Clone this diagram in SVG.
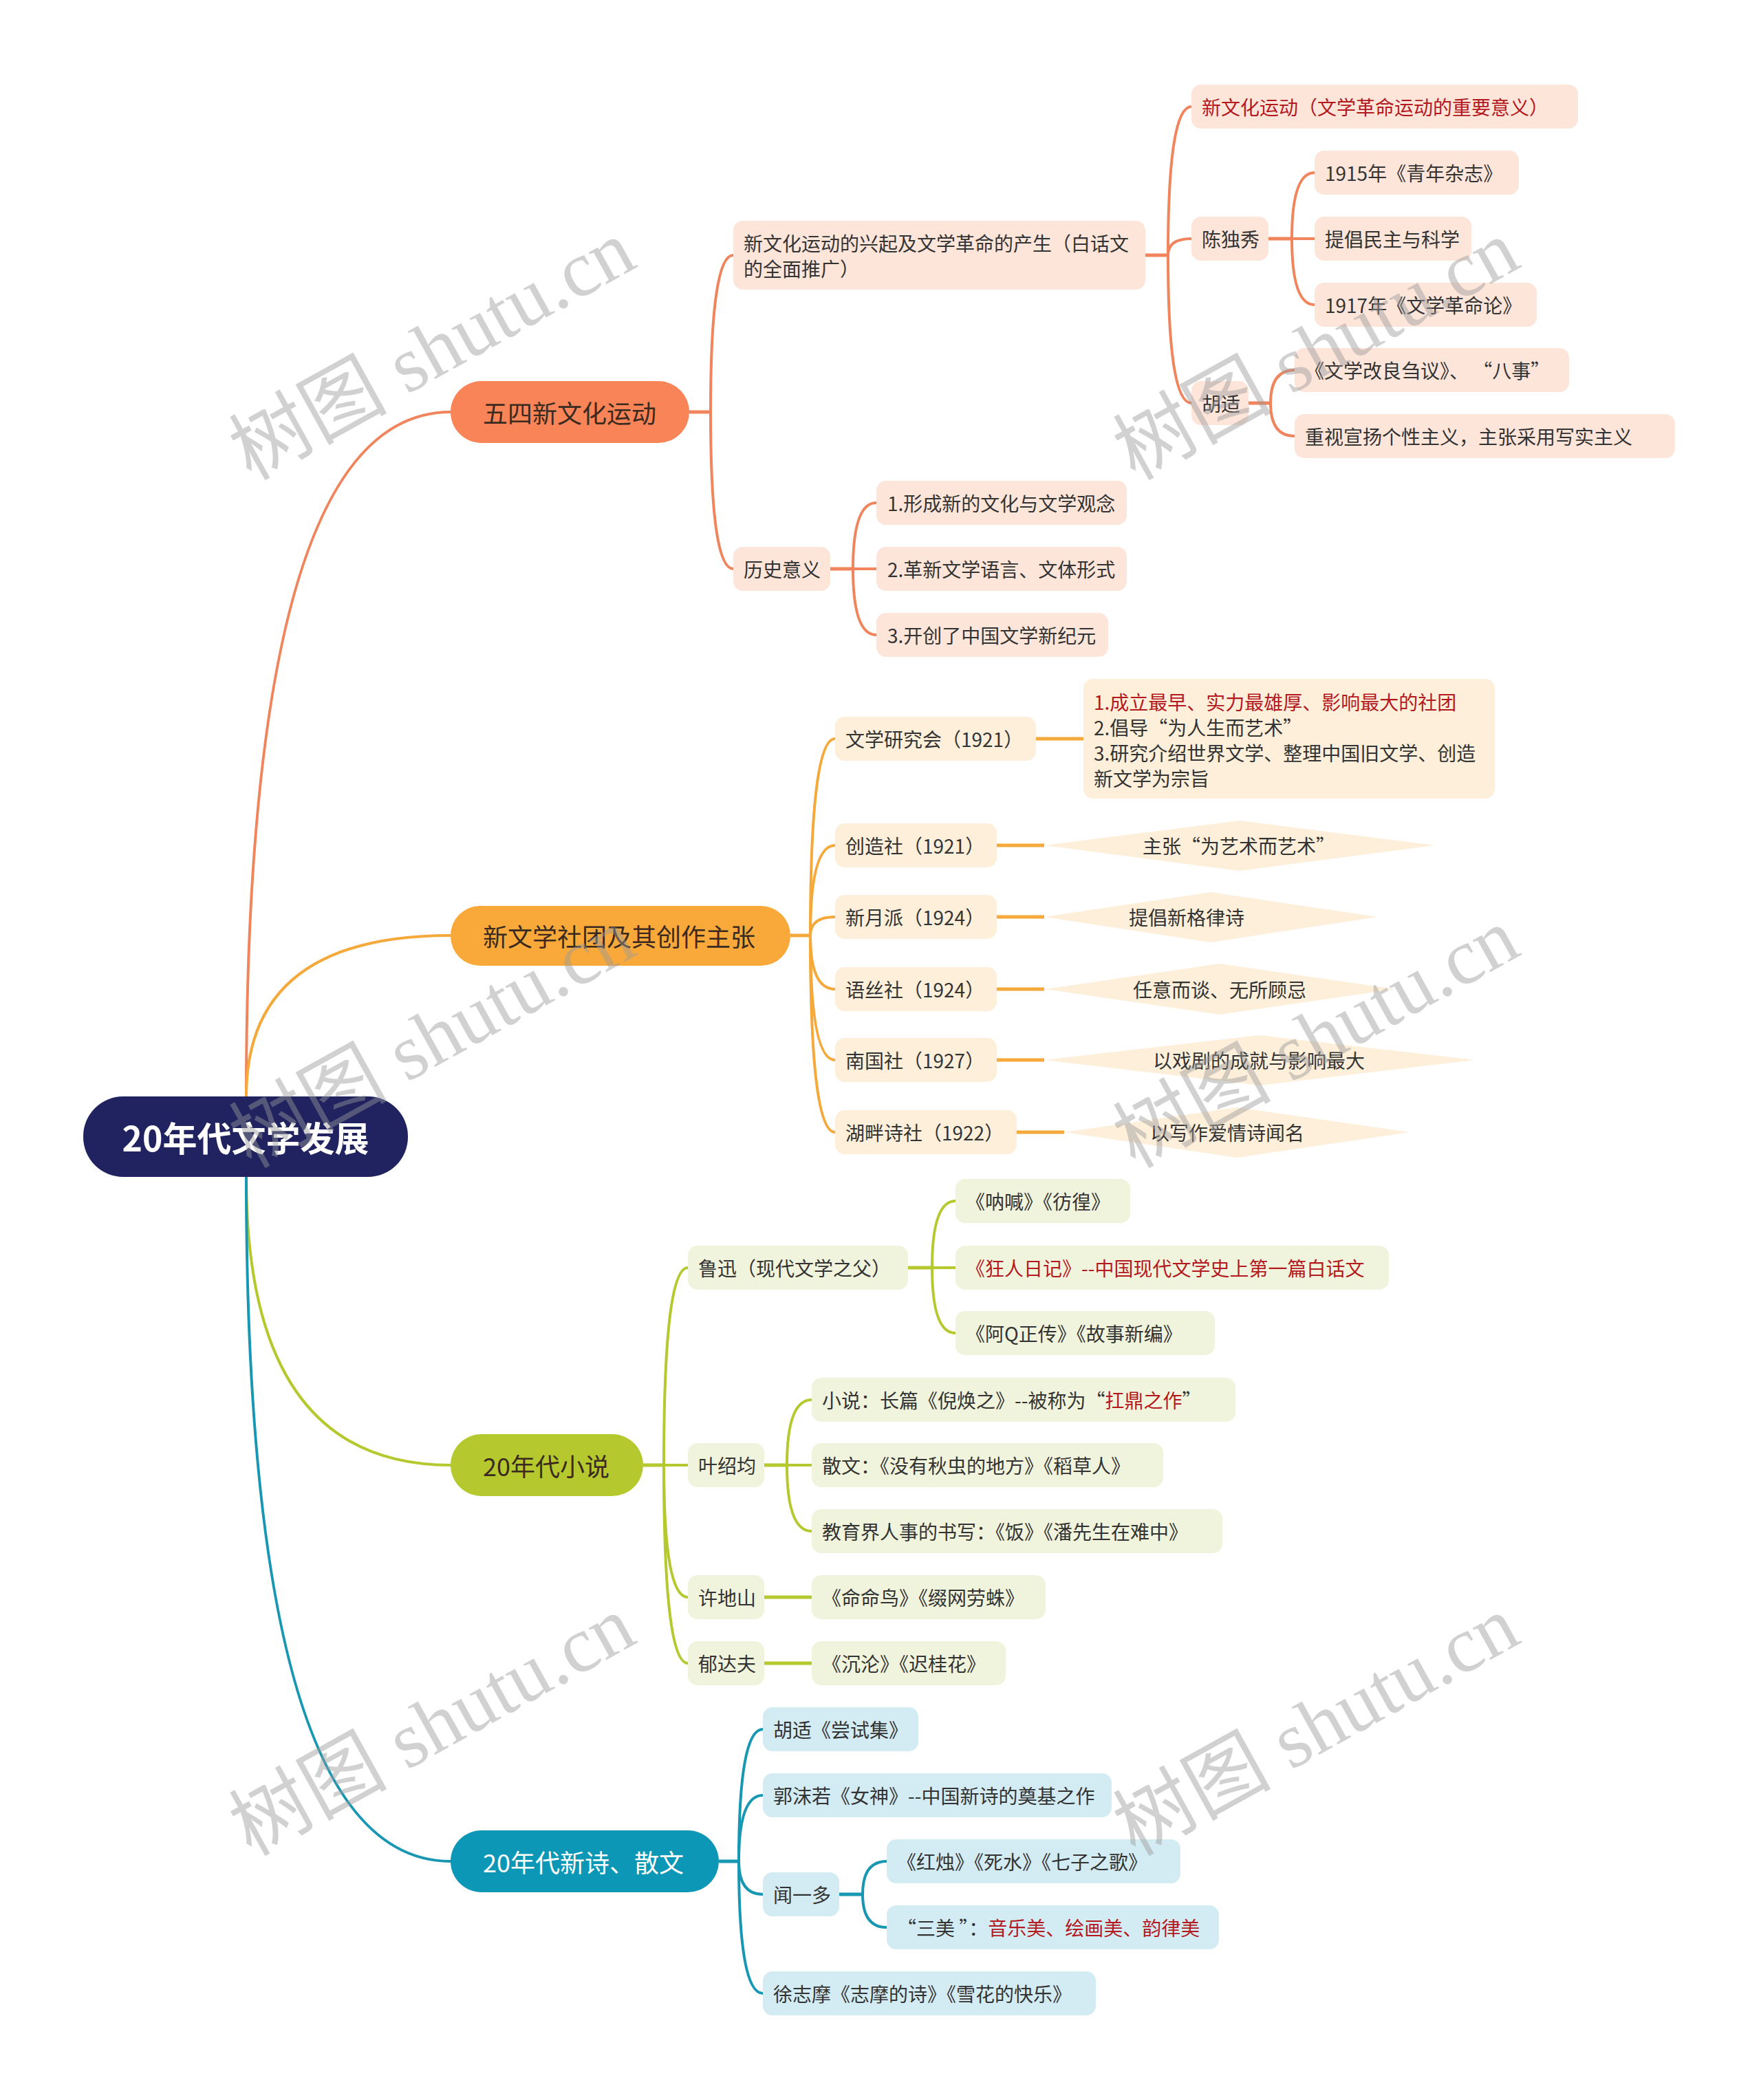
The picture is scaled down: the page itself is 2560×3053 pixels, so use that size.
<svg xmlns="http://www.w3.org/2000/svg" width="2560" height="3053" viewBox="0 0 2560 3053">
<style>
text{font-family:"Noto Sans CJK SC","Noto Sans",sans-serif;dominant-baseline:central}
.t{font-size:28px;fill:#333}
.bt{font-size:36px;fill:#3a2a20}
.red{fill:#b3191e}
.c1{fill:#fde5da}.c2{fill:#fdefd9}.c3{fill:#f1f4dc}.c4{fill:#d3ecf3}
.l{fill:none;stroke-width:4;stroke-linecap:round}
.s{fill:none;stroke-width:5}
.k1{stroke:#f0845c}.k2{stroke:#f5a93a}.k3{stroke:#b5c92e}.k4{stroke:#1897b3}
.wm{font-family:"Liberation Serif","Noto Sans CJK SC",serif;font-size:115px;fill:#9a9a9a;fill-opacity:0.45;dominant-baseline:alphabetic}
</style>
<rect width="2560" height="3053" fill="#ffffff"/>
<g id="connectors">
<path class="l k1" d="M358,1594 Q358,599 655,599"/>
<path class="l k2" d="M358,1594 Q358,1360 655,1360"/>
<path class="l k3" d="M358,1711 Q358,2130 655,2130"/>
<path class="l k4" d="M358,1711 Q358,2706 655,2706"/>
<path class="s k1" d="M1002,599 H1033"/>
<path class="l k1" d="M1033,599 Q1033,371 1066,371"/>
<path class="l k1" d="M1033,599 Q1033,827 1066,827"/>
<path class="s k1" d="M1665,371 H1698"/>
<path class="l k1" d="M1698,371 Q1698,155 1732,155"/>
<path class="l k1" d="M1698,371 Q1698,347 1732,347"/>
<path class="l k1" d="M1698,371 Q1698,586 1732,586"/>
<path class="s k1" d="M1844,347 H1878"/>
<path class="l k1" d="M1878,347 Q1878,251 1911,251"/>
<path class="l k1" d="M1878,347 H1911"/>
<path class="l k1" d="M1878,347 Q1878,443 1911,443"/>
<path class="s k1" d="M1815,586 H1847"/>
<path class="l k1" d="M1847,586 Q1847,538 1882,538"/>
<path class="l k1" d="M1847,586 Q1847,634 1882,634"/>
<path class="s k1" d="M1207,827 H1240"/>
<path class="l k1" d="M1240,827 Q1240,731 1274,731"/>
<path class="l k1" d="M1240,827 H1274"/>
<path class="l k1" d="M1240,827 Q1240,923 1274,923"/>
<path class="s k2" d="M1149,1360 H1178"/>
<path class="l k2" d="M1178,1360 Q1178,1074 1214,1074"/>
<path class="l k2" d="M1178,1360 Q1178,1229 1214,1229"/>
<path class="l k2" d="M1178,1360 Q1178,1333 1214,1333"/>
<path class="l k2" d="M1178,1360 Q1178,1438 1214,1438"/>
<path class="l k2" d="M1178,1360 Q1178,1541 1214,1541"/>
<path class="l k2" d="M1178,1360 Q1178,1646 1214,1646"/>
<path class="s k2" d="M1506,1074 H1575"/>
<path class="s k2" d="M1449,1229 H1518"/>
<path class="s k2" d="M1449,1333 H1518"/>
<path class="s k2" d="M1449,1438 H1518"/>
<path class="s k2" d="M1449,1541 H1518"/>
<path class="s k2" d="M1478,1646 H1547"/>
<path class="s k3" d="M935,2130 H965"/>
<path class="l k3" d="M965,2130 Q965,1843 1000,1843"/>
<path class="l k3" d="M965,2130 H1000"/>
<path class="l k3" d="M965,2130 Q965,2322 1000,2322"/>
<path class="l k3" d="M965,2130 Q965,2418 1000,2418"/>
<path class="s k3" d="M1320,1843 H1355"/>
<path class="l k3" d="M1355,1843 Q1355,1746 1389,1746"/>
<path class="l k3" d="M1355,1843 H1389"/>
<path class="l k3" d="M1355,1843 Q1355,1938 1389,1938"/>
<path class="s k3" d="M1111,2130 H1144"/>
<path class="l k3" d="M1144,2130 Q1144,2035 1180,2035"/>
<path class="l k3" d="M1144,2130 H1180"/>
<path class="l k3" d="M1144,2130 Q1144,2226 1180,2226"/>
<path class="s k3" d="M1111,2322 H1180"/>
<path class="s k3" d="M1111,2418 H1180"/>
<path class="s k4" d="M1045,2706 H1074"/>
<path class="l k4" d="M1074,2706 Q1074,2514 1109,2514"/>
<path class="l k4" d="M1074,2706 Q1074,2610 1109,2610"/>
<path class="l k4" d="M1074,2706 Q1074,2754 1109,2754"/>
<path class="l k4" d="M1074,2706 Q1074,2898 1109,2898"/>
<path class="s k4" d="M1220,2754 H1254"/>
<path class="l k4" d="M1254,2754 Q1254,2706 1289,2706"/>
<path class="l k4" d="M1254,2754 Q1254,2802 1289,2802"/>
</g>
<g id="root"><rect x="121" y="1594" width="472" height="117" rx="58" fill="#20235f"/><text x="357" y="1652" text-anchor="middle" style="font-size:50px;font-weight:bold;fill:#fff">20年代文学发展</text></g>
<g id="b1"><rect x="655" y="554" width="347" height="90" rx="45" fill="#f88458"/><text class="bt" x="702" y="599">五四新文化运动</text></g>
<g id="b2"><rect x="655" y="1317" width="494" height="87" rx="43" fill="#f9a93a"/><text class="bt" x="702" y="1360">新文学社团及其创作主张</text></g>
<g id="b3"><rect x="655" y="2085" width="280" height="90" rx="45" fill="#b5c92e"/><text class="bt" x="702" y="2130">20年代小说</text></g>
<g id="b4"><rect x="655" y="2661" width="390" height="90" rx="45" fill="#0c97b6"/><text class="bt" x="702" y="2706" style="fill:#fff">20年代新诗、散文</text></g>

<g id="n1a"><rect class="c1" x="1066" y="321" width="599" height="100" rx="14"/><text class="t" x="1081" y="353">新文化运动的兴起及文学革命的产生（白话文</text><text class="t" x="1081" y="390">的全面推广）</text></g>
<g id="n1a1"><rect class="c1" x="1732" y="123" width="562" height="64" rx="14"/><text class="t red" x="1747" y="155">新文化运动（文学革命运动的重要意义）</text></g>
<g id="n1a2"><rect class="c1" x="1732" y="315" width="112" height="64" rx="14"/><text class="t" x="1747" y="347">陈独秀</text></g>
<g id="n1a2a"><rect class="c1" x="1911" y="219" width="297" height="64" rx="14"/><text class="t" x="1926" y="251">1915年《青年杂志》</text></g>
<g id="n1a2b"><rect class="c1" x="1911" y="315" width="228" height="64" rx="14"/><text class="t" x="1926" y="347">提倡民主与科学</text></g>
<g id="n1a2c"><rect class="c1" x="1911" y="411" width="323" height="64" rx="14"/><text class="t" x="1926" y="443">1917年《文学革命论》</text></g>
<g id="n1a3"><rect class="c1" x="1732" y="554" width="83" height="64" rx="14"/><text class="t" x="1747" y="586">胡适</text></g>
<g id="n1a3a"><rect class="c1" x="1882" y="506" width="399" height="64" rx="14"/><text class="t" x="1897" y="538">《文学改良刍议》、 “八事”</text></g>
<g id="n1a3b"><rect class="c1" x="1882" y="602" width="553" height="64" rx="14"/><text class="t" x="1897" y="634">重视宣扬个性主义，主张采用写实主义</text></g>
<g id="n1b"><rect class="c1" x="1066" y="795" width="141" height="64" rx="14"/><text class="t" x="1081" y="827">历史意义</text></g>
<g id="n1b1"><rect class="c1" x="1274" y="699" width="364" height="64" rx="14"/><text class="t" x="1290" y="731">1.形成新的文化与文学观念</text></g>
<g id="n1b2"><rect class="c1" x="1274" y="795" width="364" height="64" rx="14"/><text class="t" x="1290" y="827">2.革新文学语言、文体形式</text></g>
<g id="n1b3"><rect class="c1" x="1274" y="891" width="337" height="64" rx="14"/><text class="t" x="1290" y="923">3.开创了中国文学新纪元</text></g>

<g id="n2a"><rect class="c2" x="1214" y="1042" width="292" height="64" rx="14"/><text class="t" x="1229" y="1074">文学研究会（1921）</text></g>
<g id="n2a1"><rect class="c2" x="1575" y="987" width="598" height="174" rx="14"/><text class="t red" x="1590" y="1020">1.成立最早、实力最雄厚、影响最大的社团</text><text class="t" x="1590" y="1057">2.倡导“为人生而艺术”</text><text class="t" x="1590" y="1094">3.研究介绍世界文学、整理中国旧文学、创造</text><text class="t" x="1590" y="1131">新文学为宗旨</text></g>
<g id="n2b"><rect class="c2" x="1214" y="1197" width="235" height="64" rx="14"/><text class="t" x="1229" y="1229">创造社（1921）</text></g>
<g id="n2b1"><polygon class="c2" points="1518,1229 1802,1193 2086,1229 1802,1266"/><text class="t" x="1661" y="1229">主张“为艺术而艺术”</text></g>
<g id="n2c"><rect class="c2" x="1214" y="1301" width="235" height="64" rx="14"/><text class="t" x="1229" y="1333">新月派（1924）</text></g>
<g id="n2c1"><polygon class="c2" points="1518,1333 1760,1297 2003,1333 1760,1370"/><text class="t" x="1641" y="1333">提倡新格律诗</text></g>
<g id="n2d"><rect class="c2" x="1214" y="1406" width="235" height="64" rx="14"/><text class="t" x="1229" y="1438">语丝社（1924）</text></g>
<g id="n2d1"><polygon class="c2" points="1518,1438 1773,1401 2028,1438 1773,1475"/><text class="t" x="1647" y="1438">任意而谈、无所顾忌</text></g>
<g id="n2e"><rect class="c2" x="1214" y="1509" width="235" height="64" rx="14"/><text class="t" x="1229" y="1541">南国社（1927）</text></g>
<g id="n2e1"><polygon class="c2" points="1518,1541 1831,1505 2144,1541 1831,1578"/><text class="t" x="1676" y="1541">以戏剧的成就与影响最大</text></g>
<g id="n2f"><rect class="c2" x="1214" y="1614" width="264" height="64" rx="14"/><text class="t" x="1229" y="1646">湖畔诗社（1922）</text></g>
<g id="n2f1"><polygon class="c2" points="1547,1646 1798,1610 2049,1646 1798,1683"/><text class="t" x="1672" y="1646">以写作爱情诗闻名</text></g>

<g id="n3a"><rect class="c3" x="1000" y="1811" width="320" height="64" rx="14"/><text class="t" x="1015" y="1843">鲁迅（现代文学之父）</text></g>
<g id="n3a1"><rect class="c3" x="1389" y="1714" width="254" height="64" rx="14"/><text class="t" x="1404" y="1746">《呐喊》《彷徨》</text></g>
<g id="n3a2"><rect class="c3" x="1389" y="1811" width="630" height="64" rx="14"/><text class="t red" x="1404" y="1843">《狂人日记》--中国现代文学史上第一篇白话文</text></g>
<g id="n3a3"><rect class="c3" x="1389" y="1906" width="377" height="64" rx="14"/><text class="t" x="1404" y="1938">《阿Q正传》《故事新编》</text></g>
<g id="n3b"><rect class="c3" x="1000" y="2098" width="111" height="64" rx="14"/><text class="t" x="1015" y="2130">叶绍均</text></g>
<g id="n3b1"><rect class="c3" x="1180" y="2003" width="616" height="64" rx="14"/><text class="t" x="1195" y="2035">小说：长篇《倪焕之》--被称为“<tspan class="red">扛鼎之作</tspan>”</text></g>
<g id="n3b2"><rect class="c3" x="1180" y="2098" width="511" height="64" rx="14"/><text class="t" x="1195" y="2130">散文：《没有秋虫的地方》《稻草人》</text></g>
<g id="n3b3"><rect class="c3" x="1180" y="2194" width="597" height="64" rx="14"/><text class="t" x="1195" y="2226">教育界人事的书写：《饭》《潘先生在难中》</text></g>
<g id="n3c"><rect class="c3" x="1000" y="2290" width="111" height="64" rx="14"/><text class="t" x="1015" y="2322">许地山</text></g>
<g id="n3c1"><rect class="c3" x="1180" y="2290" width="340" height="64" rx="14"/><text class="t" x="1195" y="2322">《命命鸟》《缀网劳蛛》</text></g>
<g id="n3d"><rect class="c3" x="1000" y="2386" width="111" height="64" rx="14"/><text class="t" x="1015" y="2418">郁达夫</text></g>
<g id="n3d1"><rect class="c3" x="1180" y="2386" width="282" height="64" rx="14"/><text class="t" x="1195" y="2418">《沉沦》《迟桂花》</text></g>

<g id="n4a"><rect class="c4" x="1109" y="2482" width="226" height="64" rx="14"/><text class="t" x="1124" y="2514">胡适《尝试集》</text></g>
<g id="n4b"><rect class="c4" x="1109" y="2578" width="507" height="64" rx="14"/><text class="t" x="1124" y="2610">郭沫若《女神》--中国新诗的奠基之作</text></g>
<g id="n4c"><rect class="c4" x="1109" y="2722" width="111" height="64" rx="14"/><text class="t" x="1124" y="2754">闻一多</text></g>
<g id="n4c1"><rect class="c4" x="1289" y="2674" width="427" height="64" rx="14"/><text class="t" x="1304" y="2706">《红烛》《死水》《七子之歌》</text></g>
<g id="n4c2"><rect class="c4" x="1289" y="2770" width="483" height="64" rx="14"/><text class="t" x="1304" y="2802">“三美 ”：<tspan class="red">音乐美、绘画美、韵律美</tspan></text></g>
<g id="n4d"><rect class="c4" x="1109" y="2866" width="484" height="64" rx="14"/><text class="t" x="1124" y="2898">徐志摩《志摩的诗》《雪花的快乐》</text></g>

<g id="watermarks">
<text class="wm" x="647" y="543" text-anchor="middle" transform="rotate(-29 647 543)">树图 shutu.cn</text>
<text class="wm" x="1932" y="543" text-anchor="middle" transform="rotate(-29 1932 543)">树图 shutu.cn</text>
<text class="wm" x="647" y="1543" text-anchor="middle" transform="rotate(-29 647 1543)">树图 shutu.cn</text>
<text class="wm" x="1932" y="1543" text-anchor="middle" transform="rotate(-29 1932 1543)">树图 shutu.cn</text>
<text class="wm" x="647" y="2543" text-anchor="middle" transform="rotate(-29 647 2543)">树图 shutu.cn</text>
<text class="wm" x="1932" y="2543" text-anchor="middle" transform="rotate(-29 1932 2543)">树图 shutu.cn</text>
</g>
</svg>
